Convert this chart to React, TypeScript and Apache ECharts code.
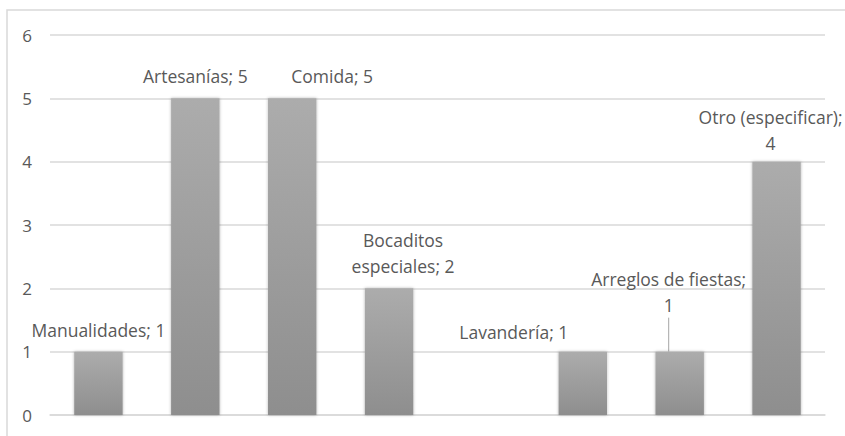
import React, { useEffect, useRef } from "react";
import * as echarts from "echarts";

const categories = [
  "Manualidades",
  "Artesanías",
  "Comida",
  "Bocaditos especiales",
  "",
  "Lavandería",
  "Arreglos de fiestas",
  "Otro (especificar)",
];
const values: (number | null)[] = [1, 5, 5, 2, null, 1, 1, 4];
const labelTexts = [
  "Manualidades; 1",
  "Artesanías; 5",
  "Comida; 5",
  "Bocaditos\nespeciales; 2",
  "",
  "Lavandería; 1",
  "Arreglos de fiestas;\n1",
  "Otro (especificar);\n4",
];
const labelShifts: [number, number][] = [
  [0, 0],
  [0, 0],
  [40, 0],
  [14, 0],
  [0, 0],
  [-69, 2],
  [-11, -25],
  [-6, 3],
];
const yTicks = [0, 1, 2, 3, 4, 5, 6];

const FONT = "'Open Sans', Lato, sans-serif";
const TEXT = "#595959";

export default function App() {
  const ref = useRef<HTMLDivElement>(null);
  useEffect(() => {
    document.body.style.margin = "0";
    const chart = echarts.init(ref.current!, null, { renderer: "svg" });
    chart.setOption({
      animation: false,
      textStyle: { fontFamily: FONT },
      graphic: [
        {
          type: "rect",
          shape: { x: 7, y: 10, width: 860, height: 460 },
          style: { fill: "none", stroke: "#d9d9d9", lineWidth: 1.5 },
          silent: true,
        },
      ],
      grid: { left: 50, right: 20, top: 35, bottom: 21, containLabel: false },
      xAxis: {
        type: "category",
        data: categories,
        axisLine: { show: true, lineStyle: { color: "#d9d9d9", width: 1.5 } },
        axisTick: { show: false },
        axisLabel: { show: false },
      },
      yAxis: {
        type: "value",
        min: yTicks[0],
        max: yTicks[yTicks.length - 1],
        interval: 1,
        axisLine: { show: false },
        axisTick: { show: false },
        axisLabel: { color: TEXT, fontSize: 17, fontFamily: FONT, margin: 18 },
        splitLine: { lineStyle: { color: "#d9d9d9", width: 1.5 } },
      },
      series: [
        {
          type: "bar",
          barCategoryGap: "50%",
          data: values.map((v, i) => ({
            value: v,
            label: { formatter: labelTexts[i] },
            labelLine: { show: i === 6 },
          })),
          itemStyle: {
            color: new echarts.graphic.LinearGradient(0, 0, 0, 1, [
              { offset: 0, color: "#acacac" },
              { offset: 1, color: "#8e8e8e" },
            ]),
            shadowBlur: 3,
            shadowColor: "rgba(0,0,0,0.3)",
          },
          label: {
            show: true,
            position: "top",
            distance: 9,
            color: TEXT,
            fontSize: 17.5,
            fontFamily: FONT,
            lineHeight: 26,
            align: "center",
          },
          labelLine: {
            show: false,
            lineStyle: { color: "#a6a6a6", width: 1 },
          },
          labelLayout: (p: any) => ({
            dx: labelShifts[p.dataIndex][0],
            dy: labelShifts[p.dataIndex][1],
          }),
        },
      ],
    });
    return () => chart.dispose();
  }, []);
  return <div ref={ref} style={{ width: 845, height: 436 }} />;
}
